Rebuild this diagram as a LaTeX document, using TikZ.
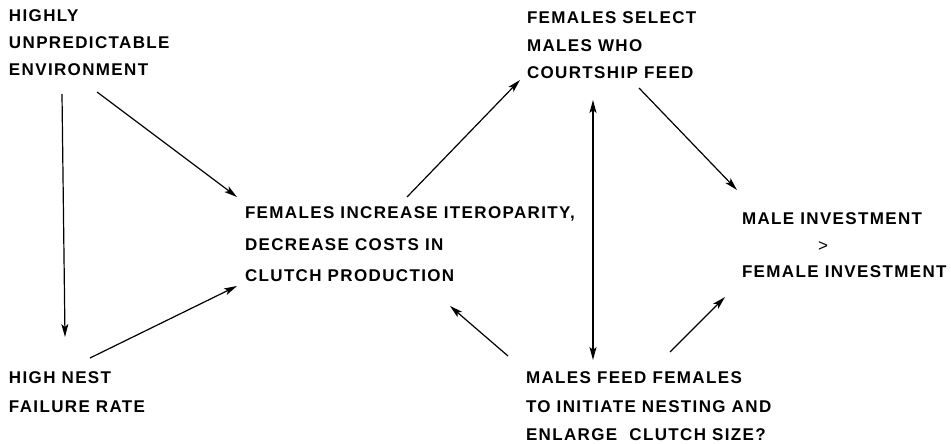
\documentclass[tikz,border=0pt]{standalone}
\usepackage{fontspec}
\setmainfont{Liberation Sans}[LetterSpace=8]
\usetikzlibrary{arrows.meta,calc}
\begin{document}
\begin{tikzpicture}[x=1pt,y=-1pt,
  lbl/.style={anchor=north west,inner sep=0pt,outer sep=0pt,align=left,font=\bfseries\fontsize{17}{#1}\selectfont},
  arr/.style={line width=1.2pt,-{Stealth[length=13pt,width=7pt,inset=3pt]}},
  darr/.style={line width=1.2pt,{Stealth[length=13pt,width=7pt,inset=3pt]}-{Stealth[length=13pt,width=7pt,inset=3pt]}}]
\useasboundingbox (0,0) rectangle (951,444);
\node[lbl=27] (env) at (9,10) {HIGHLY\\UNPREDICTABLE\\ENVIRONMENT};
\node[lbl=29] (fail) at (9,372) {HIGH NEST\\FAILURE RATE};
\node[lbl=31.5] (fem) at (245,207) {FEMALES INCREASE ITEROPARITY,\\DECREASE COSTS IN\\CLUTCH PRODUCTION};
\node[lbl=27.5] (sel) at (527,12) {FEMALES SELECT\\MALES WHO\\COURTSHIP FEED};
\node[lbl=26.5] (inv) at (742,213) {MALE INVESTMENT\\\hspace*{76pt}\textmd{>}\\FEMALE INVESTMENT};
\node[lbl=28.5] (feed) at (526,372) {MALES FEED FEMALES\\TO INITIATE NESTING AND\\ENLARGE\ \ CLUTCH SIZE?};
\draw[arr] ($(env.north west)+(53,84)$) -- ($(fail.north west)+(56,-35)$);
\draw[arr] ($(env.north west)+(88,82)$) -- ($(fem.north west)+(-8,-10)$);
\draw[arr] ($(fail.north west)+(81,-14)$) -- ($(fem.north west)+(-8,79)$);
\draw[arr] ($(fem.north west)+(162,-10)$) -- ($(sel.north west)+(-7,68)$);
\draw[darr] ($(sel.north west)+(66,88)$) -- ($(feed.north west)+(67,-12)$);
\draw[arr] ($(sel.north west)+(112,76)$) -- ($(inv.north west)+(-5,-23)$);
\draw[arr] ($(feed.north west)+(-18,-16)$) -- ($(fem.north west)+(205,99)$);
\draw[arr] ($(feed.north west)+(144,-20)$) -- ($(inv.north west)+(-17,84)$);
\end{tikzpicture}
\end{document}
